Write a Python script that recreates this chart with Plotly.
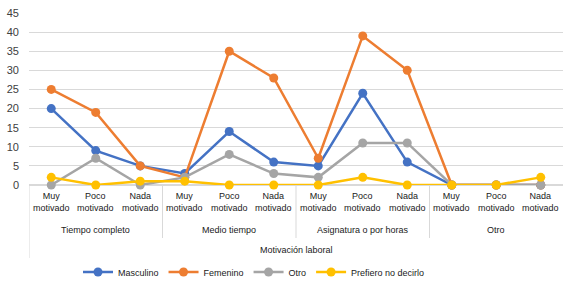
import plotly.graph_objects as go

groups = ["Tiempo completo", "Medio tiempo", "Asignatura o por horas", "Otro"]
levels = ["Muy<br>motivado", "Poco<br>motivado", "Nada<br>motivado"]
axis_title = "Motivación laboral"

masculino = [20, 9, 5, 3, 14, 6, 5, 24, 6, 0, 0, 0]
femenino = [25, 19, 5, 2, 35, 28, 7, 39, 30, 0, 0, 0]
otro = [0, 7, 0, 2, 8, 3, 2, 11, 11, 0, 0, 0]
prefiero = [2, 0, 1, 1, 0, 0, 0, 2, 0, 0, 0, 2]

series = [
    ("Masculino", masculino, "#4472C4"),
    ("Femenino", femenino, "#ED7D31"),
    ("Otro", otro, "#A5A5A5"),
    ("Prefiero no decirlo", prefiero, "#FFC000"),
]

n = len(groups) * len(levels)
xs = list(range(n))

fig = go.Figure()
for name, vals, color in series:
    fig.add_trace(go.Scatter(
        x=xs, y=vals, name=name, mode="lines+markers",
        line=dict(color=color, width=2.5),
        marker=dict(color=color, size=9),
        cliponaxis=False,
    ))

H = 172.0
def py(p):
    return (185 - p) / H

FS = 9
annotations = []
shapes = []
for i in xs:
    annotations.append(dict(x=i, y=py(202), xref="x", yref="paper",
                            text=levels[i % 3], showarrow=False,
                            font=dict(size=FS, color="#1a1a1a"),
                            yanchor="middle"))
for g, name in enumerate(groups):
    annotations.append(dict(x=g * 3 + 1, y=py(230), xref="x", yref="paper",
                            text=name, showarrow=False,
                            font=dict(size=FS, color="#1a1a1a"),
                            yanchor="middle"))
annotations.append(dict(x=5.5, y=py(250), xref="x", yref="paper",
                        text=axis_title, showarrow=False,
                        font=dict(size=FS, color="#1a1a1a"),
                        yanchor="middle"))
for b in [2.5, 5.5, 8.5]:
    shapes.append(dict(type="line", xref="x", yref="paper", x0=b, x1=b,
                       y0=0, y1=py(238), line=dict(color="#D9D9D9", width=1)))
shapes.append(dict(type="line", xref="x", yref="paper", x0=-0.5, x1=-0.5,
                   y0=0, y1=py(258), line=dict(color="#D9D9D9", width=1)))

fig.update_layout(
    width=575, height=285,
    margin=dict(l=29, r=12, t=13, b=100, autoexpand=False),
    paper_bgcolor="white", plot_bgcolor="white",
    font=dict(family="Liberation Sans, Arial, sans-serif", size=FS, color="#1a1a1a"),
    xaxis=dict(range=[-0.5, n - 0.5], showticklabels=False, showgrid=False,
               zeroline=False, showline=False, fixedrange=True, automargin=False),
    yaxis=dict(range=[0, 45], dtick=5, showgrid=True, gridcolor="#D9D9D9",
               gridwidth=1, zeroline=True, zerolinecolor="#D9D9D9",
               tickfont=dict(size=11, color="#404040"), ticks="",
               ticklabelstandoff=9, automargin=False),
    legend=dict(orientation="h", x=254 / 575, xanchor="center",
                xref="container", yref="container", y=1 - 272 / 285,
                yanchor="middle", font=dict(size=FS), itemwidth=30,
                tracegroupgap=0),
    annotations=annotations, shapes=shapes,
    showlegend=True,
)

fig.write_html("out.html", config={"displayModeBar": False},
               post_script="document.body.style.margin='0';document.body.style.overflow='hidden';")
